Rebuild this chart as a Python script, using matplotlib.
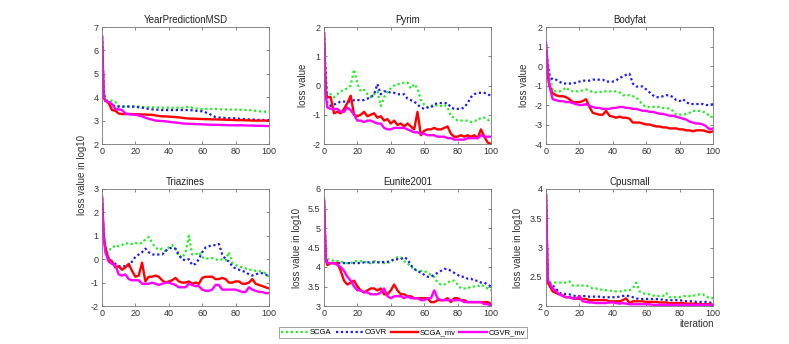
import matplotlib.pyplot as plt

# iteration numbers used for every curve
iters = [0, 1] + list(range(2, 101, 2))

series_names = ['SCGA', 'CGVR', 'SCGA_mv', 'CGVR_mv']

# YearPredictionMSD
yp_scga = [6.6, 4.5, 3.9, 3.85, 3.85, 3.8, 3.62, 3.6, 3.6, 3.6, 3.6, 3.6,
           3.6, 3.58, 3.58, 3.57, 3.57, 3.56, 3.56, 3.55, 3.55, 3.55,
           3.55, 3.55, 3.55, 3.55, 3.56, 3.6, 3.55, 3.52, 3.5, 3.5,
           3.5, 3.5, 3.5, 3.5, 3.48, 3.48, 3.48, 3.48, 3.47, 3.47,
           3.47, 3.46, 3.45, 3.45, 3.44, 3.42, 3.4, 3.38, 3.38, 3.38]
yp_cgvr = [6.6, 4.2, 3.85, 3.8, 3.7, 3.6, 3.6, 3.6, 3.6, 3.6, 3.6, 3.58,
           3.57, 3.55, 3.52, 3.5, 3.48, 3.47, 3.46, 3.45, 3.45, 3.45,
           3.45, 3.45, 3.45, 3.45, 3.45, 3.45, 3.44, 3.42, 3.4, 3.4,
           3.35, 3.3, 3.22, 3.15, 3.13, 3.12, 3.11, 3.1, 3.1, 3.1,
           3.08, 3.07, 3.06, 3.05, 3.05, 3.04, 3.03, 3.03, 3.02, 3.02]
yp_scga_mv = [6.6, 4.0, 3.85, 3.75, 3.45, 3.42, 3.3, 3.28, 3.28, 3.28, 3.28, 3.27,
              3.27, 3.26, 3.26, 3.25, 3.25, 3.22, 3.2, 3.18, 3.18, 3.17,
              3.16, 3.15, 3.14, 3.12, 3.1, 3.09, 3.08, 3.08, 3.07, 3.07,
              3.06, 3.06, 3.05, 3.05, 3.05, 3.04, 3.04, 3.03, 3.03, 3.02,
              3.02, 3.02, 3.01, 3.01, 3.0, 3.0, 3.0, 3.0, 3.0, 3.0]
yp_cgvr_mv = [6.6, 4.0, 3.85, 3.8, 3.7, 3.5, 3.48, 3.45, 3.3, 3.28, 3.26, 3.25,
              3.22, 3.18, 3.12, 3.08, 3.04, 3.0, 2.99, 2.98, 2.97, 2.95,
              2.93, 2.92, 2.9, 2.88, 2.87, 2.86, 2.86, 2.85, 2.85, 2.84,
              2.83, 2.83, 2.82, 2.82, 2.82, 2.81, 2.81, 2.8, 2.8, 2.8,
              2.8, 2.8, 2.79, 2.79, 2.79, 2.78, 2.78, 2.78, 2.77, 2.77]

# Pyrim
py_scga = [1.8, 0.5, -0.3, -0.3, -0.4, -0.3, -0.2, -0.15, -0.1, 0.0, 0.55, 0.05,
           -0.2, -0.15, -0.3, -0.4, -0.3, -0.2, -0.7, -0.4, -0.2, -0.1,
           0.0, 0.05, 0.05, 0.1, 0.1, -0.1, 0.05, -0.1, -0.5, -0.65,
           -0.75, -0.7, -0.65, -0.7, -0.7, -0.65, -0.75, -1.05, -1.1, -1.2,
           -1.2, -1.2, -1.2, -1.25, -1.2, -1.2, -1.1, -1.1, -1.15, -1.3]
py_cgvr = [1.8, 0.2, -0.6, -0.7, -0.65, -0.6, -0.55, -0.55, -0.55, -0.55, -0.5, -0.5,
           -0.5, -0.5, -0.45, -0.4, -0.3, 0.05, -0.3, -0.2, -0.2, -0.25,
           -0.25, -0.3, -0.3, -0.3, -0.45, -0.5, -0.55, -0.65, -0.75, -0.8,
           -0.75, -0.75, -0.65, -0.6, -0.6, -0.6, -0.6, -0.75, -0.8, -0.8,
           -0.8, -0.75, -0.6, -0.4, -0.3, -0.25, -0.25, -0.25, -0.3, -0.35]
py_scga_mv = [1.8, -0.2, -0.4, -0.4, -0.95, -0.9, -0.95, -0.8, -0.6, -0.35, -1.0, -1.05,
              -1.0, -0.9, -1.05, -1.0, -0.95, -1.1, -1.05, -1.2, -1.15, -1.3,
              -1.2, -1.35, -1.3, -1.4, -1.3, -1.4, -1.5, -0.9, -1.7, -1.55,
              -1.5, -1.5, -1.45, -1.5, -1.5, -1.45, -1.4, -1.65, -1.75, -1.75,
              -1.7, -1.75, -1.7, -1.75, -1.7, -1.8, -1.5, -1.75, -1.95, -2.0]
py_cgvr_mv = [1.8, -0.3, -0.75, -0.8, -0.8, -0.8, -0.9, -0.9, -0.75, -0.85, -1.0, -1.2,
              -1.2, -1.25, -1.2, -1.2, -1.25, -1.3, -1.3, -1.45, -1.5, -1.5,
              -1.45, -1.45, -1.45, -1.45, -1.5, -1.55, -1.6, -1.6, -1.65, -1.65,
              -1.7, -1.7, -1.7, -1.75, -1.75, -1.75, -1.8, -1.8, -1.85, -1.85,
              -1.85, -1.85, -1.8, -1.8, -1.8, -1.8, -1.7, -1.75, -1.75, -1.75]

# Bodyfat
bf_scga = [1.1, 0.0, -0.2, -1.3, -1.3, -1.3, -1.25, -1.1, -1.25, -1.3, -1.3, -1.3,
           -1.25, -1.2, -1.25, -1.35, -1.35, -1.35, -1.3, -1.3, -1.3, -1.3,
           -1.3, -1.35, -1.5, -1.5, -1.5, -1.55, -1.6, -1.8, -2.0, -2.1,
           -2.1, -2.1, -2.1, -2.1, -2.15, -2.15, -2.2, -2.3, -2.5, -2.5,
           -2.5, -2.45, -2.4, -2.3, -2.3, -2.3, -2.35, -2.4, -2.6, -2.6]
bf_cgvr = [1.1, 0.0, -0.5, -0.7, -0.7, -0.8, -0.9, -0.9, -0.9, -0.9, -0.85, -0.8,
           -0.75, -0.75, -0.75, -0.7, -0.7, -0.7, -0.7, -0.8, -0.8, -0.8,
           -0.75, -0.6, -0.55, -0.45, -0.4, -0.9, -1.05, -1.05, -1.05, -1.2,
           -1.35, -1.5, -1.6, -1.6, -1.55, -1.5, -1.5, -1.6, -1.75, -1.8,
           -1.7, -1.85, -1.95, -1.95, -1.95, -1.95, -1.95, -2.0, -2.0, -1.95]
bf_scga_mv = [0.8, -0.5, -1.0, -1.4, -1.5, -1.55, -1.55, -1.6, -1.7, -1.85, -1.85, -1.85,
              -1.8, -1.7, -2.1, -2.4, -2.45, -2.5, -2.5, -2.3, -2.55, -2.6,
              -2.65, -2.6, -2.65, -2.65, -2.7, -2.9, -2.9, -2.9, -2.95, -3.0,
              -3.0, -3.05, -3.1, -3.1, -3.15, -3.15, -3.2, -3.2, -3.2, -3.25,
              -3.25, -3.3, -3.3, -3.35, -3.3, -3.3, -3.3, -3.35, -3.4, -3.35]
bf_cgvr_mv = [1.2, 0.0, -1.0, -1.7, -1.75, -1.8, -1.8, -1.85, -1.85, -1.9, -1.95, -2.0,
              -2.0, -1.95, -2.05, -2.1, -2.15, -2.15, -2.2, -2.2, -2.2, -2.15,
              -2.15, -2.1, -2.1, -2.15, -2.15, -2.2, -2.2, -2.25, -2.3, -2.3,
              -2.35, -2.35, -2.4, -2.45, -2.45, -2.5, -2.55, -2.55, -2.6, -2.65,
              -2.7, -2.75, -2.85, -2.9, -2.95, -2.95, -3.0, -3.1, -3.25, -3.2]

# Triazines
tz_scga = [2.6, 1.0, 0.5, 0.4, 0.45, 0.6, 0.55, 0.6, 0.7, 0.65, 0.65, 0.7,
           0.65, 0.7, 0.85, 0.95, 0.7, 0.5, 0.4, 0.45, 0.35, 0.5,
           0.6, 0.45, 0.1, 0.05, 0.3, 1.0, 0.2, 0.2, 0.3, 0.1,
           0.0, 0.05, 0.05, 0.0, -0.05, 0.0, -0.05, 0.3, -0.15, -0.25,
           -0.3, -0.35, -0.4, -0.45, -0.45, -0.5, -0.5, -0.55, -0.6, -0.75]
tz_cgvr = [2.6, 1.0, 0.5, 0.0, -0.1, -0.2, -0.3, -0.3, -0.3, -0.3, -0.1, 0.1,
           0.2, 0.3, 0.45, 0.3, 0.2, 0.2, 0.2, 0.2, 0.35, 0.45,
           0.5, 0.45, 0.2, 0.0, -0.05, 0.0, -0.25, -0.2, 0.0, 0.3,
           0.5, 0.55, 0.6, 0.6, 0.65, 0.2, 0.0, -0.1, -0.3, -0.4,
           -0.45, -0.5, -0.55, -0.65, -0.7, -0.65, -0.6, -0.6, -0.65, -0.75]
tz_scga_mv = [2.7, 1.0, 0.5, 0.0, -0.1, -0.35, -0.3, -0.45, -0.35, -0.2, -0.5, -0.75,
              -0.7, -0.15, -0.95, -0.75, -0.75, -0.7, -0.75, -0.9, -1.0, -0.95,
              -0.9, -0.8, -0.95, -1.0, -1.0, -0.95, -1.05, -1.0, -1.05, -0.8,
              -0.75, -0.75, -0.75, -0.85, -0.85, -0.8, -0.85, -1.0, -1.0, -0.95,
              -0.95, -1.05, -1.05, -1.0, -0.85, -1.05, -1.1, -1.15, -1.2, -1.25]
tz_cgvr_mv = [2.6, 1.0, 0.3, -0.1, -0.2, -0.25, -0.65, -0.7, -0.65, -0.85, -0.9, -0.9,
              -0.9, -1.05, -1.05, -1.05, -1.0, -1.05, -1.1, -1.05, -1.0, -1.0,
              -1.05, -1.1, -1.2, -1.2, -1.2, -1.05, -1.1, -1.15, -1.15, -1.3,
              -1.35, -1.35, -1.3, -1.1, -1.1, -1.3, -1.3, -1.3, -1.3, -1.3,
              -1.35, -1.4, -1.4, -1.2, -1.3, -1.35, -1.4, -1.4, -1.45, -1.45]

# Eunite2001
eu_scga = [5.7, 4.3, 4.2, 4.2, 4.15, 4.15, 4.15, 4.1, 4.1, 4.1, 4.15, 4.15,
           4.15, 4.15, 4.1, 4.1, 4.15, 4.15, 4.1, 4.1, 4.1, 4.15,
           4.2, 4.25, 4.25, 4.15, 4.1, 4.0, 3.95, 3.9, 3.9, 3.9,
           3.85, 3.8, 3.75, 3.6, 3.55, 3.55, 3.6, 3.65, 3.65, 3.55,
           3.45, 3.45, 3.45, 3.5, 3.5, 3.5, 3.55, 3.5, 3.45, 3.4]
eu_cgvr = [5.7, 4.3, 4.1, 4.1, 4.1, 4.1, 4.1, 4.1, 4.1, 4.1, 4.1, 4.1,
           4.1, 4.12, 4.12, 4.12, 4.12, 4.12, 4.12, 4.13, 4.13, 4.15,
           4.2, 4.2, 4.2, 4.25, 4.2, 4.05, 3.95, 3.9, 3.85, 3.8,
           3.75, 3.75, 3.8, 3.85, 3.9, 3.95, 3.95, 3.9, 3.85, 3.8,
           3.75, 3.75, 3.7, 3.7, 3.65, 3.65, 3.6, 3.6, 3.55, 3.5]
eu_scga_mv = [5.7, 4.2, 4.05, 4.1, 4.1, 4.1, 3.9, 3.65, 3.55, 3.6, 3.65, 3.5,
              3.4, 3.35, 3.4, 3.45, 3.45, 3.4, 3.45, 3.3, 3.3, 3.4,
              3.55, 3.4, 3.3, 3.3, 3.25, 3.25, 3.2, 3.2, 3.2, 3.2,
              3.2, 3.1, 3.1, 3.15, 3.15, 3.15, 3.2, 3.1, 3.2, 3.2,
              3.15, 3.15, 3.1, 3.1, 3.1, 3.1, 3.1, 3.1, 3.1, 3.05]
eu_cgvr_mv = [5.75, 4.2, 4.1, 4.1, 4.1, 4.05, 4.0, 3.9, 3.75, 3.65, 3.5, 3.4,
              3.4, 3.35, 3.35, 3.3, 3.3, 3.3, 3.35, 3.45, 3.25, 3.2,
              3.25, 3.25, 3.25, 3.2, 3.25, 3.2, 3.2, 3.2, 3.15, 3.15,
              3.2, 3.2, 3.4, 3.2, 3.15, 3.15, 3.15, 3.15, 3.15, 3.15,
              3.15, 3.1, 3.1, 3.1, 3.1, 3.1, 3.1, 3.05, 3.05, 3.0]

# Cpusmall
cp_scga = [3.9, 2.5, 2.4, 2.4, 2.4, 2.4, 2.4, 2.4, 2.42, 2.35, 2.35, 2.35,
           2.35, 2.35, 2.33, 2.3, 2.3, 2.28, 2.28, 2.27, 2.27, 2.25,
           2.25, 2.25, 2.25, 2.27, 2.27, 2.3, 2.4, 2.25, 2.22, 2.2,
           2.2, 2.18, 2.17, 2.17, 2.17, 2.22, 2.15, 2.15, 2.15, 2.15,
           2.17, 2.17, 2.17, 2.18, 2.18, 2.2, 2.2, 2.15, 2.15, 2.13]
cp_cgvr = [3.9, 2.45, 2.4, 2.35, 2.3, 2.22, 2.22, 2.2, 2.2, 2.18, 2.17, 2.17,
           2.17, 2.17, 2.16, 2.16, 2.16, 2.16, 2.15, 2.15, 2.15, 2.15,
           2.15, 2.16, 2.17, 2.18, 2.17, 2.15, 2.13, 2.12, 2.12, 2.12,
           2.12, 2.12, 2.12, 2.11, 2.11, 2.1, 2.1, 2.1, 2.1, 2.1,
           2.09, 2.08, 2.08, 2.08, 2.07, 2.07, 2.07, 2.07, 2.06, 2.05]
cp_scga_mv = [3.9, 2.4, 2.35, 2.25, 2.22, 2.2, 2.18, 2.15, 2.15, 2.13, 2.13, 2.12,
              2.12, 2.12, 2.1, 2.1, 2.1, 2.1, 2.1, 2.1, 2.08, 2.08,
              2.08, 2.08, 2.1, 2.13, 2.05, 2.08, 2.08, 2.08, 2.08, 2.07,
              2.07, 2.07, 2.07, 2.06, 2.06, 2.06, 2.05, 2.05, 2.05, 2.05,
              2.05, 2.04, 2.04, 2.04, 2.04, 2.03, 2.03, 2.03, 2.03, 2.02]
cp_cgvr_mv = [3.9, 2.45, 2.4, 2.3, 2.25, 2.2, 2.17, 2.15, 2.15, 2.13, 2.12, 2.17,
              2.08, 2.07, 2.06, 2.06, 2.05, 2.05, 2.05, 2.05, 2.06, 2.06,
              2.05, 2.04, 2.05, 2.04, 2.03, 2.03, 2.03, 2.03, 2.03, 2.03,
              2.03, 2.02, 2.02, 2.02, 2.02, 2.02, 2.02, 2.02, 2.02, 2.02,
              2.02, 2.02, 2.02, 2.02, 2.02, 2.02, 2.02, 2.02, 2.02, 2.02]

panels = [
    ('YearPredictionMSD', (yp_scga, yp_cgvr, yp_scga_mv, yp_cgvr_mv), (2, 7), [2, 3, 4, 5, 6, 7], None),
    ('Pyrim', (py_scga, py_cgvr, py_scga_mv, py_cgvr_mv), (-2, 2), [-2, -1, 0, 1, 2], 'loss value'),
    ('Bodyfat', (bf_scga, bf_cgvr, bf_scga_mv, bf_cgvr_mv), (-4, 2), [-4, -3, -2, -1, 0, 1, 2], 'loss value'),
    ('Triazines', (tz_scga, tz_cgvr, tz_scga_mv, tz_cgvr_mv), (-2, 3), [-2, -1, 0, 1, 2, 3], None),
    ('Eunite2001', (eu_scga, eu_cgvr, eu_scga_mv, eu_cgvr_mv), (3, 6), [3, 3.5, 4, 4.5, 5, 5.5, 6], 'loss value in log10'),
    ('Cpusmall', (cp_scga, cp_cgvr, cp_scga_mv, cp_cgvr_mv), (2, 4), [2, 2.5, 3, 3.5, 4], 'loss value in log10'),
]

colors = ['#22ee22', '#1a1aff', '#ff0000', '#ff00ff']
styles = [(0, (1, 1.2)), (0, (1, 1.2)), '-', '-']
widths = [1.6, 1.6, 1.7, 1.7]

plt.rcParams['font.family'] = ['Liberation Sans', 'DejaVu Sans']
fig = plt.figure(figsize=(7.89, 3.44), dpi=100)

W, H = 789, 344
lefts = [102, 324, 546]
tops = [27, 189]
aw, ah = 167, 117
ylab_x = [None, -0.095, -0.10, None, -0.13, -0.14]

lines = []
for i, (title, data, ylim, yticks, ylab) in enumerate(panels):
    r, c = divmod(i, 3)
    ax = fig.add_axes([lefts[c] / W, 1 - (tops[r] + ah) / H, aw / W, ah / H])
    lines = []
    for vals, col, ls, lw in zip(data, colors, styles, widths):
        ln, = ax.plot(iters, vals, color=col, linestyle=ls, linewidth=lw)
        lines.append(ln)
    ax.set_xlim(0, 100)
    ax.set_ylim(*ylim)
    ax.set_xticks([0, 20, 40, 60, 80, 100])
    ax.set_yticks(yticks)
    ax.set_yticklabels([('%g' % t) for t in yticks])
    ax.set_title(title, fontsize=7, color='#222222', pad=3)
    ax.tick_params(direction='in', length=2.5, width=0.5, labelsize=6.5,
                   colors='#555555', labelcolor='#333333', top=True, right=True, pad=2.5)
    for s in ax.spines.values():
        s.set_color('#777777')
        s.set_linewidth(0.6)
    if ylab:
        ax.set_ylabel(ylab, fontsize=7, color='#333333')
        ax.yaxis.set_label_coords(ylab_x[i], 0.5)
    if i == 5:
        ax.set_xlabel('iteration', fontsize=7, color='#333333')
        ax.xaxis.set_label_coords(0.9, -0.11)

fig.text(82 / W, 1 - 175 / H, 'loss value in log10', rotation=90, fontsize=7,
         color='#333333', ha='center', va='center')

leg = fig.legend(lines, series_names, loc='center', bbox_to_anchor=(403 / W, 1 - 332.5 / H),
                 ncol=4, fontsize=5.5, frameon=True, fancybox=False, handlelength=3.6,
                 handletextpad=0.2, columnspacing=0.5, borderpad=0.25, borderaxespad=0)
leg.get_frame().set_edgecolor('#777777')
leg.get_frame().set_linewidth(0.6)

fig.savefig('out.png', dpi=100)
